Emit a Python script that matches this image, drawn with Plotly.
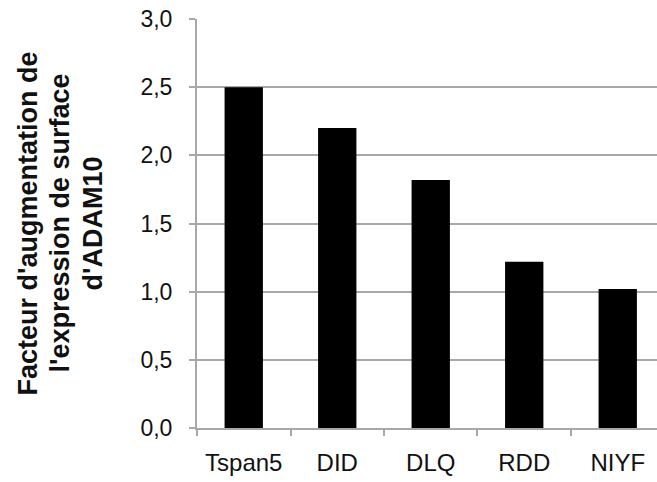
import plotly.graph_objects as go

# Fold increase in ADAM10 surface expression per construct
categories = ["Tspan5", "DID", "DLQ", "RDD", "NIYF"]
fold_increase = [2.50, 2.20, 1.82, 1.22, 1.02]
y_ticks = [0.0, 0.5, 1.0, 1.5, 2.0, 2.5, 3.0]
title_lines = ["Facteur d'augmentation de", "l'expression de surface", "d'ADAM10"]

axis_grey = "#a8a8a8"
text_color = "#111111"
font_family = "Liberation Sans, Arial, sans-serif"

fig = go.Figure(
    go.Bar(
        x=categories,
        y=fold_increase,
        width=0.41,
        marker=dict(color="black", line=dict(width=0)),
    )
)

fig.update_layout(
    width=657,
    height=482,
    margin=dict(l=197, r=0, t=19, b=54),
    paper_bgcolor="white",
    plot_bgcolor="white",
    separators=", ",
    showlegend=False,
    font=dict(family=font_family, size=22, color=text_color),
)

fig.update_xaxes(
    type="category",
    range=[-0.5, 4.42],
    showline=True,
    linecolor=axis_grey,
    linewidth=2,
    ticks="outside",
    tickson="boundaries",
    ticklen=6,
    tickwidth=2,
    tickcolor=axis_grey,
    showgrid=False,
    ticklabelstandoff=12,
    tickfont=dict(size=24, color=text_color),
)

fig.update_yaxes(
    range=[0, 3.0005],
    tickvals=y_ticks,
    tickformat=".1f",
    showline=True,
    linecolor=axis_grey,
    linewidth=2,
    ticks="outside",
    ticklen=6,
    tickwidth=2,
    tickcolor=axis_grey,
    showgrid=True,
    gridcolor=axis_grey,
    gridwidth=2,
    zeroline=False,
    ticklabelstandoff=12,
    tickfont=dict(size=23, color=text_color),
)

# Rotated y-axis title, one annotation per line for tight line spacing
plot_left, plot_width = 197, 460
for line, x_px in zip(title_lines, [27, 59, 92]):
    fig.add_annotation(
        text=line,
        xref="paper",
        yref="paper",
        x=(x_px - plot_left) / plot_width,
        y=0.5,
        xanchor="center",
        yanchor="middle",
        textangle=-90,
        showarrow=False,
        font=dict(family=font_family, size=27, color=text_color, weight="bold"),
    )

fig.write_html("out.html")
